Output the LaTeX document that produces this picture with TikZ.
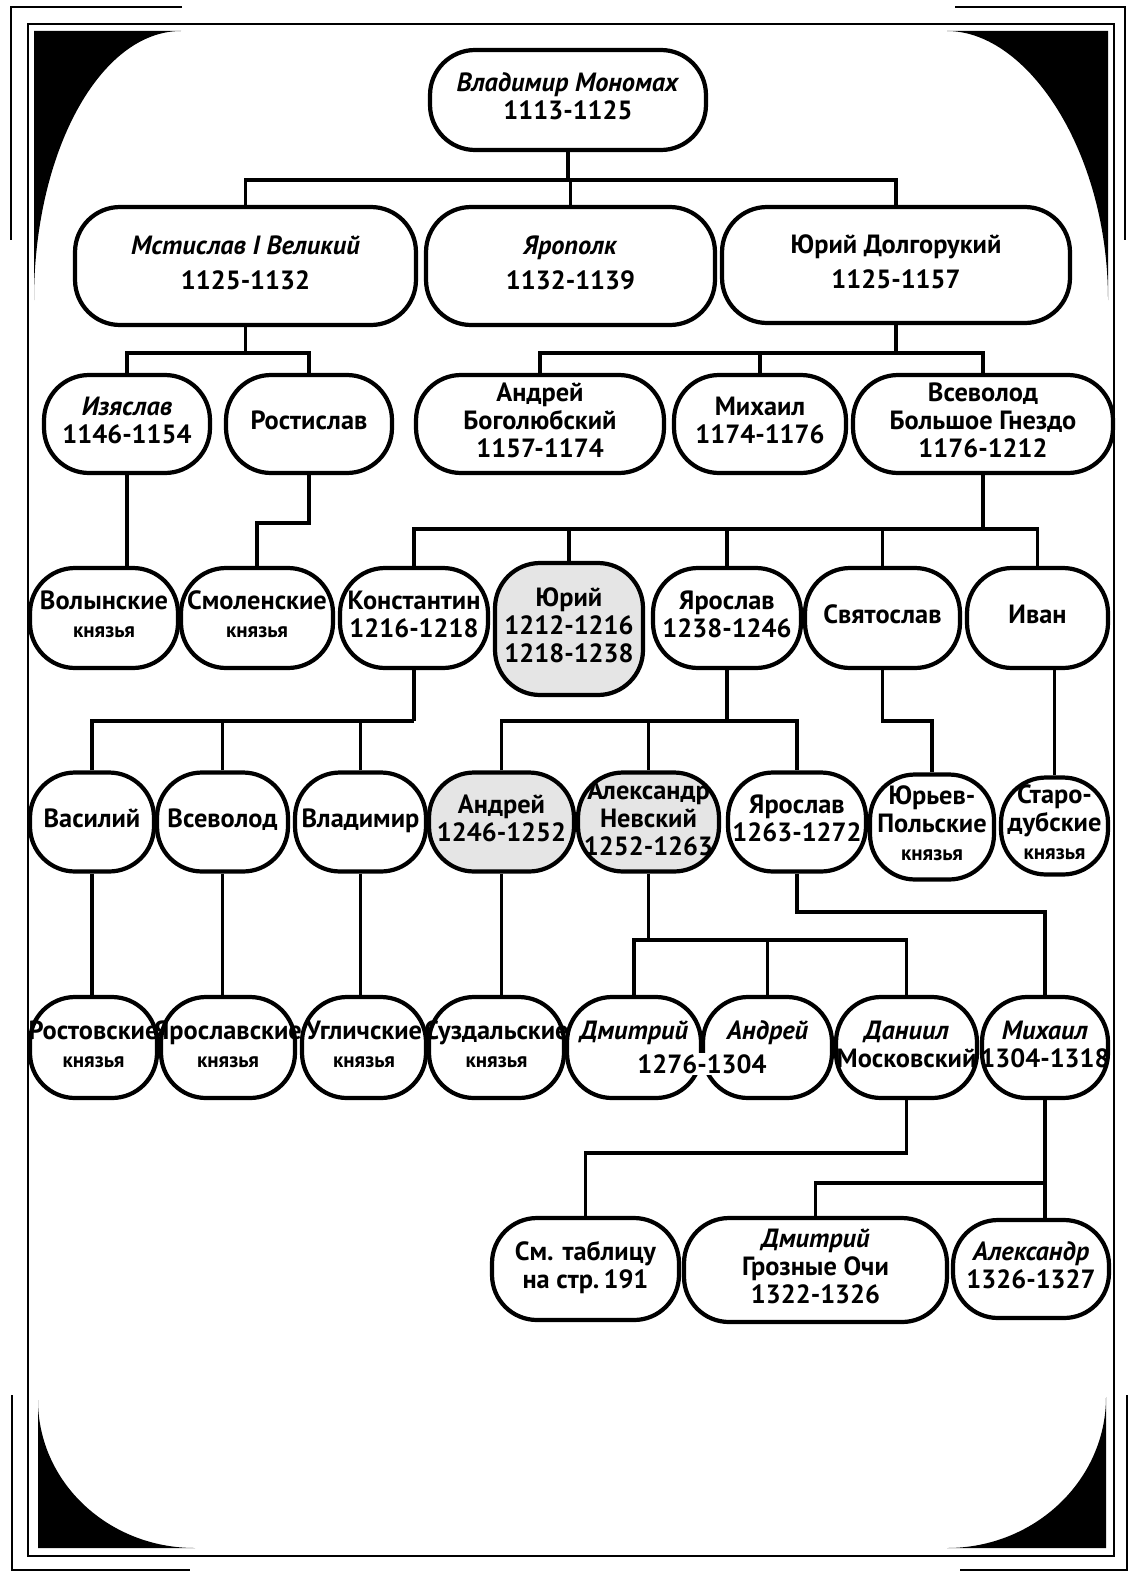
\documentclass[tikz,border=0pt]{standalone}
\usepackage{fontspec}
\setmainfont{PT Sans}
\newcommand{\kn}{{\fontsize{12}{13}\selectfont князья}}
\newcommand{\prn}[1]{\makebox[0pt]{\begin{tabular}{@{}c@{}}#1\end{tabular}}}

\begin{document}
\begin{tikzpicture}[
    x=0.02cm, y=-0.02cm,
    % Style definitions
    prince/.style={rectangle, rounded corners=0.9cm, draw=black, line width=2.4pt,
                   fill=white, inner sep=0pt, font=\fontsize{15}{16}\selectfont\bfseries},
    shaded/.style={fill=black!10},
    link/.style={line width=2pt},
    frameline/.style={line width=1.4pt},
]
\useasboundingbox (0,0) rectangle (1134,1575);

% Frame
\draw[frameline] (28,24) rectangle (1114,1556);
\draw[frameline] (182,7) -- (11,7) -- (11,240);
\draw[frameline] (955,7) -- (1125,7) -- (1125,240);
\draw[frameline] (12,1395) -- (12,1570) -- (190,1570);
\draw[frameline] (1127,1395) -- (1127,1570) -- (960,1570);
\fill (34,31) -- (181,31) .. controls (100,31) and (34,152) .. (34,300) -- cycle;
\fill (1108,31) -- (947,31) .. controls (1028,31) and (1108,152) .. (1108,300) -- cycle;
\fill (38,1548) -- (38,1400) .. controls (38,1482) and (108,1548) .. (195,1548) -- cycle;
\fill (1106,1548) -- (1106,1397) .. controls (1106,1480) and (1035,1548) .. (947,1548) -- cycle;

% Level 0
\node[prince, minimum width=5.52cm, minimum height=2cm] (monomakh) at (568,100)
    {\prn{\textit{Владимир Мономах}\\1113-1125}};

% Level 1
\node[prince, minimum width=6.82cm, minimum height=2.36cm] (mstislav) at (245.5,266)
    {\prn{\textit{Мстислав I Великий}\\[4pt]1125-1132}};
\node[prince, minimum width=5.78cm, minimum height=2.36cm] (yaropolk) at (570.5,266)
    {\prn{\textit{Ярополк}\\[4pt]1132-1139}};
\node[prince, minimum width=6.96cm, minimum height=2.32cm] (yuri) at (896,265)
    {\prn{Юрий Долгорукий\\[4pt]1125-1157}};

% Level 2
\node[prince, minimum width=3.32cm, minimum height=1.96cm] (izyaslav) at (127,424)
    {\prn{\textit{Изяслав}\\1146-1154}};
\node[prince, minimum width=3.32cm, minimum height=1.96cm] (rostislav) at (309,424)
    {\prn{Ростислав}};
\node[prince, minimum width=4.96cm, minimum height=1.96cm] (andrei1) at (540,424)
    {\prn{Андрей\\Боголюбский\\1157-1174}};
\node[prince, minimum width=3.44cm, minimum height=1.96cm] (mikhail1) at (760,424)
    {\prn{Михаил\\1174-1176}};
\node[prince, minimum width=5.2cm, minimum height=1.96cm] (vsevolod) at (983,424)
    {\prn{Всеволод\\Большое Гнездо\\1176-1212}};

% Level 3
\node[prince, minimum width=2.96cm, minimum height=2cm] (volynskie) at (104,618)
    {\prn{Волынские\\\kn}};
\node[prince, minimum width=3.04cm, minimum height=2cm] (smolenskie) at (257,618)
    {\prn{Смоленские\\\kn}};
\node[prince, minimum width=2.96cm, minimum height=2cm] (konstantin) at (414,618)
    {\prn{Константин\\1216-1218}};
\node[prince, shaded, minimum width=2.96cm, minimum height=2.64cm] (yuri2) at (569,629)
    {\prn{Юрий\\1212-1216\\1218-1238}};
\node[prince, minimum width=2.96cm, minimum height=2cm] (yaroslav1) at (727,618)
    {\prn{Ярослав\\1238-1246}};
\node[prince, minimum width=3.1cm, minimum height=2cm] (svyatoslav) at (882.5,618)
    {\prn{Святослав}};
\node[prince, minimum width=2.82cm, minimum height=2cm] (ivan) at (1037.5,618)
    {\prn{Иван}};

% Level 4
\node[prince, minimum width=2.48cm, minimum height=1.98cm] (vasily) at (92,822)
    {\prn{Василий}};
\node[prince, minimum width=2.62cm, minimum height=1.98cm] (vsevolod2) at (222.5,822)
    {\prn{Всеволод}};
\node[prince, minimum width=2.62cm, minimum height=1.98cm] (vladimir) at (360.5,822)
    {\prn{Владимир}};
\node[prince, shaded, minimum width=2.9cm, minimum height=1.98cm] (andrei2) at (501.5,822)
    {\prn{Андрей\\1246-1252}};
\node[prince, shaded, minimum width=2.82cm, minimum height=1.98cm] (alexander) at (648.5,822)
    {\prn{Александр\\Невский\\1252-1263}};
\node[prince, minimum width=2.76cm, minimum height=1.98cm] (yaroslav2) at (797,822)
    {\prn{Ярослав\\1263-1272}};
\node[prince, minimum width=2.48cm, minimum height=2.1cm] (yurievpol) at (932,827)
    {\prn{Юрьев-\\Польские\\\kn}};
\node[prince, minimum width=2.14cm, minimum height=1.94cm] (starodub) at (1054.5,826)
    {\prn{Старо-\\дубские\\\kn}};

% Level 5
\node[prince, minimum width=2.54cm, minimum height=2.02cm] (rostov) at (93.5,1047.5)
    {\prn{Ростовские\\\kn}};
\node[prince, minimum width=2.68cm, minimum height=2.02cm] (yaroslavsk) at (228,1047.5)
    {\prn{Ярославские\\\kn}};
\node[prince, minimum width=2.48cm, minimum height=2.02cm] (uglich) at (364,1047.5)
    {\prn{Угличские\\\kn}};
\node[prince, minimum width=2.7cm, minimum height=2.02cm] (suzdal) at (496.5,1047.5)
    {\prn{Суздальские\\\kn}};
\node[prince, minimum width=2.68cm, minimum height=2.02cm] (dmitry1) at (634,1047.5)
    {\prn{\textit{Дмитрий}\\\strut}};
\node[prince, minimum width=2.58cm, minimum height=2.02cm] (andrei3) at (767.5,1047.5)
    {\prn{\textit{Андрей}\\\strut}};
\node[fill=white, inner sep=1pt, font=\fontsize{15}{16}\selectfont\bfseries] (date3) at (702,1064)
    {1276-1304};
\node[prince, minimum width=2.82cm, minimum height=2.02cm] (daniil) at (906.5,1047.5)
    {\prn{\textit{Даниил}\\Московский}};
\node[prince, minimum width=2.52cm, minimum height=2.02cm] (mikhail2) at (1045,1047.5)
    {\prn{\textit{Михаил}\\1304-1318}};

% Level 6
\node[prince, minimum width=3.74cm, minimum height=2.04cm] (smtabl) at (585.5,1269)
    {\prn{См. таблицу\\на стр.\,191}};
\node[prince, minimum width=5.26cm, minimum height=2.08cm] (dmitry2) at (815.5,1270)
    {\prn{\textit{Дмитрий}\\Грозные Очи\\1322-1326}};
\node[prince, minimum width=3.12cm, minimum height=1.96cm] (alexander2) at (1031,1269)
    {\prn{\textit{Александр}\\1326-1327}};

% Bus lines
\coordinate (bus1) at (0,180);
\coordinate (bus2) at (0,353);
\coordinate (bus3a) at (0,523);
\coordinate (bus3) at (0,529);
\coordinate (bus4) at (0,721);
\coordinate (bus5b) at (0,912);
\coordinate (bus5) at (0,940);
\coordinate (bus6) at (0,1153);
\coordinate (bus6b) at (0,1183);

% Links - Level 0 to 1
\draw[link] (monomakh) -- (monomakh |- bus1);
\draw[link] (mstislav) |- (bus1 -| yuri) -- (yuri);
\draw[link] (yaropolk) -- (yaropolk |- bus1);

% Links - Level 1 to 2
\draw[link] (mstislav) -- (mstislav |- bus2);
\draw[link] (izyaslav) |- (bus2 -| rostislav) -- (rostislav);
\draw[link] (yuri) -- (yuri |- bus2);
\draw[link] (andrei1) |- (bus2 -| vsevolod) -- (vsevolod);
\draw[link] (mikhail1) -- (mikhail1 |- bus2);

% Links - Level 2 to 3
\draw[link] (izyaslav) -- (izyaslav |- volynskie.north);
\draw[link] (rostislav) |- (bus3a -| smolenskie) -- (smolenskie);
\draw[link] (vsevolod) -- (vsevolod |- bus3);
\draw[link] (konstantin) |- (bus3 -| ivan) -- (ivan);
\foreach \n in {yuri2, yaroslav1, svyatoslav}
    \draw[link] (\n) -- (\n |- bus3);

% Links - Level 3 to 4
\draw[link] (konstantin) -- (konstantin |- bus4);
\draw[link] (vasily) |- (bus4 -| konstantin);
\foreach \n in {vsevolod2, vladimir}
    \draw[link] (\n) -- (\n |- bus4);
\draw[link] (yaroslav1) -- (yaroslav1 |- bus4);
\draw[link] (andrei2) |- (bus4 -| yaroslav2) -- (yaroslav2);
\draw[link] (alexander) -- (alexander |- bus4);
\draw[link] (svyatoslav) |- (bus4 -| yurievpol) -- (yurievpol);
\draw[link] (ivan.south -| starodub) -- (starodub);

% Links - Level 4 to 5
\draw[link] (vasily) -- (vasily |- rostov.north);
\draw[link] (vsevolod2) -- (vsevolod2 |- yaroslavsk.north);
\draw[link] (vladimir) -- (vladimir |- uglich.north);
\draw[link] (andrei2) -- (andrei2 |- suzdal.north);
\draw[link] (alexander) -- (alexander |- bus5);
\draw[link] (dmitry1) |- (bus5 -| daniil) -- (daniil);
\draw[link] (andrei3) -- (andrei3 |- bus5);
\draw[link] (yaroslav2) |- (bus5b -| mikhail2) -- (mikhail2);

% Links - Level 5 to 6
\draw[link] (daniil) |- (bus6 -| smtabl) -- (smtabl);
\draw[link] (mikhail2) -- (mikhail2 |- alexander2.north);
\draw[link] (mikhail2 |- bus6b) -| (dmitry2);

\end{tikzpicture}
\end{document}
